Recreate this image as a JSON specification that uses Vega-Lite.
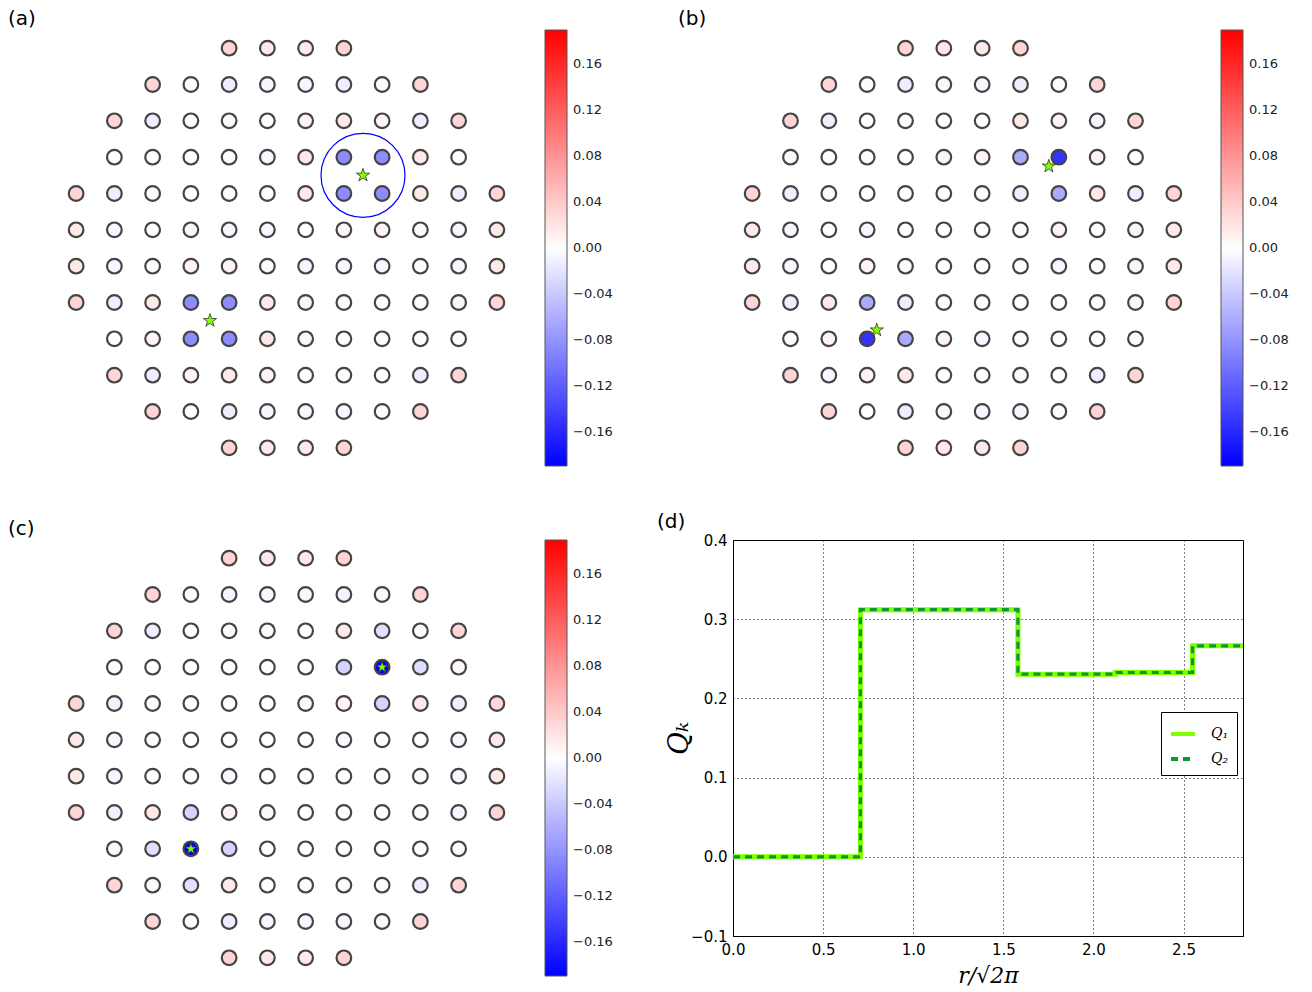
{
"$schema": "https://vega.github.io/schema/vega-lite/v6.json",
"padding": {"left": 8, "top": 9, "right": 0, "bottom": 0},
"background": "white",
"config": {
  "view": {"stroke": null},
  "title": {"font": "DejaVu Sans", "fontSize": 20, "fontWeight": "normal", "anchor": "start", "frame": "group", "offset": 1, "color": "black"},
  "legend": {"labelFont": "DejaVu Sans", "labelColor": "#222"}
},
"datasets": {
  "la": [
    {"r":0,"c":4,"v":0.032},{"r":0,"c":5,"v":0.017},{"r":0,"c":6,"v":0.017},{"r":0,"c":7,"v":0.032},
    {"r":1,"c":2,"v":0.032},{"r":1,"c":3,"v":0.003},{"r":1,"c":4,"v":-0.013},{"r":1,"c":5,"v":-0.006},{"r":1,"c":6,"v":-0.006},{"r":1,"c":7,"v":-0.013},{"r":1,"c":8,"v":0.003},{"r":1,"c":9,"v":0.032},
    {"r":2,"c":1,"v":0.032},{"r":2,"c":2,"v":-0.013},{"r":2,"c":3,"v":0},{"r":2,"c":4,"v":0.003},{"r":2,"c":5,"v":0},{"r":2,"c":6,"v":0.008},{"r":2,"c":7,"v":0.017},{"r":2,"c":8,"v":0.008},{"r":2,"c":9,"v":-0.013},{"r":2,"c":10,"v":0.032},
    {"r":3,"c":1,"v":0},{"r":3,"c":2,"v":0},{"r":3,"c":3,"v":0},{"r":3,"c":4,"v":0},{"r":3,"c":5,"v":-0.006},{"r":3,"c":6,"v":0.017},{"r":3,"c":7,"v":-0.086},{"r":3,"c":8,"v":-0.086},{"r":3,"c":9,"v":0.017},{"r":3,"c":10,"v":0},
    {"r":4,"c":0,"v":0.032},{"r":4,"c":1,"v":-0.013},{"r":4,"c":2,"v":0.003},{"r":4,"c":3,"v":0},{"r":4,"c":4,"v":0.003},{"r":4,"c":5,"v":0},{"r":4,"c":6,"v":0.017},{"r":4,"c":7,"v":-0.086},{"r":4,"c":8,"v":-0.086},{"r":4,"c":9,"v":0.017},{"r":4,"c":10,"v":-0.013},{"r":4,"c":11,"v":0.032},
    {"r":5,"c":0,"v":0.017},{"r":5,"c":1,"v":-0.006},{"r":5,"c":2,"v":0},{"r":5,"c":3,"v":-0.006},{"r":5,"c":4,"v":-0.006},{"r":5,"c":5,"v":-0.006},{"r":5,"c":6,"v":0},{"r":5,"c":7,"v":0.008},{"r":5,"c":8,"v":0.008},{"r":5,"c":9,"v":0.003},{"r":5,"c":10,"v":-0.006},{"r":5,"c":11,"v":0.017},
    {"r":6,"c":0,"v":0.017},{"r":6,"c":1,"v":-0.006},{"r":6,"c":2,"v":0.003},{"r":6,"c":3,"v":0.008},{"r":6,"c":4,"v":0.008},{"r":6,"c":5,"v":0.003},{"r":6,"c":6,"v":-0.006},{"r":6,"c":7,"v":-0.006},{"r":6,"c":8,"v":-0.006},{"r":6,"c":9,"v":0},{"r":6,"c":10,"v":-0.006},{"r":6,"c":11,"v":0.017},
    {"r":7,"c":0,"v":0.032},{"r":7,"c":1,"v":-0.013},{"r":7,"c":2,"v":0.017},{"r":7,"c":3,"v":-0.086},{"r":7,"c":4,"v":-0.086},{"r":7,"c":5,"v":0.017},{"r":7,"c":6,"v":-0.006},{"r":7,"c":7,"v":0.003},{"r":7,"c":8,"v":0},{"r":7,"c":9,"v":0.003},{"r":7,"c":10,"v":-0.006},{"r":7,"c":11,"v":0.032},
    {"r":8,"c":1,"v":0},{"r":8,"c":2,"v":0.008},{"r":8,"c":3,"v":-0.086},{"r":8,"c":4,"v":-0.086},{"r":8,"c":5,"v":0.017},{"r":8,"c":6,"v":-0.006},{"r":8,"c":7,"v":0},{"r":8,"c":8,"v":0},{"r":8,"c":9,"v":0},{"r":8,"c":10,"v":0.003},
    {"r":9,"c":1,"v":0.032},{"r":9,"c":2,"v":-0.013},{"r":9,"c":3,"v":0.008},{"r":9,"c":4,"v":0.017},{"r":9,"c":5,"v":0.008},{"r":9,"c":6,"v":0},{"r":9,"c":7,"v":0.003},{"r":9,"c":8,"v":0},{"r":9,"c":9,"v":-0.013},{"r":9,"c":10,"v":0.032},
    {"r":10,"c":2,"v":0.032},{"r":10,"c":3,"v":0},{"r":10,"c":4,"v":-0.013},{"r":10,"c":5,"v":-0.006},{"r":10,"c":6,"v":-0.006},{"r":10,"c":7,"v":-0.006},{"r":10,"c":8,"v":0.003},{"r":10,"c":9,"v":0.032},
    {"r":11,"c":4,"v":0.032},{"r":11,"c":5,"v":0.017},{"r":11,"c":6,"v":0.017},{"r":11,"c":7,"v":0.032}
  ],
  "lb": [
    {"r":0,"c":4,"v":0.032},{"r":0,"c":5,"v":0.017},{"r":0,"c":6,"v":0.017},{"r":0,"c":7,"v":0.032},
    {"r":1,"c":2,"v":0.032},{"r":1,"c":3,"v":0.003},{"r":1,"c":4,"v":-0.013},{"r":1,"c":5,"v":-0.006},{"r":1,"c":6,"v":-0.006},{"r":1,"c":7,"v":-0.013},{"r":1,"c":8,"v":0},{"r":1,"c":9,"v":0.032},
    {"r":2,"c":1,"v":0.032},{"r":2,"c":2,"v":-0.013},{"r":2,"c":3,"v":0},{"r":2,"c":4,"v":0.003},{"r":2,"c":5,"v":0},{"r":2,"c":6,"v":0},{"r":2,"c":7,"v":0.017},{"r":2,"c":8,"v":0.008},{"r":2,"c":9,"v":-0.006},{"r":2,"c":10,"v":0.032},
    {"r":3,"c":1,"v":0.003},{"r":3,"c":2,"v":0},{"r":3,"c":3,"v":0},{"r":3,"c":4,"v":0},{"r":3,"c":5,"v":-0.006},{"r":3,"c":6,"v":0.008},{"r":3,"c":7,"v":-0.063},{"r":3,"c":8,"v":-0.152},{"r":3,"c":9,"v":0.008},{"r":3,"c":10,"v":0},
    {"r":4,"c":0,"v":0.032},{"r":4,"c":1,"v":-0.013},{"r":4,"c":2,"v":0.003},{"r":4,"c":3,"v":0},{"r":4,"c":4,"v":0},{"r":4,"c":5,"v":0},{"r":4,"c":6,"v":0.003},{"r":4,"c":7,"v":-0.013},{"r":4,"c":8,"v":-0.063},{"r":4,"c":9,"v":0.017},{"r":4,"c":10,"v":-0.013},{"r":4,"c":11,"v":0.032},
    {"r":5,"c":0,"v":0.017},{"r":5,"c":1,"v":-0.006},{"r":5,"c":2,"v":0},{"r":5,"c":3,"v":-0.006},{"r":5,"c":4,"v":0},{"r":5,"c":5,"v":0},{"r":5,"c":6,"v":0},{"r":5,"c":7,"v":0.003},{"r":5,"c":8,"v":0.008},{"r":5,"c":9,"v":0},{"r":5,"c":10,"v":-0.006},{"r":5,"c":11,"v":0.017},
    {"r":6,"c":0,"v":0.017},{"r":6,"c":1,"v":-0.006},{"r":6,"c":2,"v":0},{"r":6,"c":3,"v":0.008},{"r":6,"c":4,"v":0.003},{"r":6,"c":5,"v":0},{"r":6,"c":6,"v":0},{"r":6,"c":7,"v":0},{"r":6,"c":8,"v":-0.006},{"r":6,"c":9,"v":0},{"r":6,"c":10,"v":-0.006},{"r":6,"c":11,"v":0.017},
    {"r":7,"c":0,"v":0.032},{"r":7,"c":1,"v":-0.013},{"r":7,"c":2,"v":0.017},{"r":7,"c":3,"v":-0.063},{"r":7,"c":4,"v":-0.013},{"r":7,"c":5,"v":0.003},{"r":7,"c":6,"v":0},{"r":7,"c":7,"v":0},{"r":7,"c":8,"v":0},{"r":7,"c":9,"v":0.003},{"r":7,"c":10,"v":-0.006},{"r":7,"c":11,"v":0.032},
    {"r":8,"c":1,"v":0},{"r":8,"c":2,"v":0.008},{"r":8,"c":3,"v":-0.152},{"r":8,"c":4,"v":-0.063},{"r":8,"c":5,"v":0.008},{"r":8,"c":6,"v":-0.006},{"r":8,"c":7,"v":0},{"r":8,"c":8,"v":0},{"r":8,"c":9,"v":0},{"r":8,"c":10,"v":0.003},
    {"r":9,"c":1,"v":0.032},{"r":9,"c":2,"v":-0.006},{"r":9,"c":3,"v":0.008},{"r":9,"c":4,"v":0.017},{"r":9,"c":5,"v":0},{"r":9,"c":6,"v":0},{"r":9,"c":7,"v":0.003},{"r":9,"c":8,"v":0},{"r":9,"c":9,"v":-0.013},{"r":9,"c":10,"v":0.032},
    {"r":10,"c":2,"v":0.032},{"r":10,"c":3,"v":0},{"r":10,"c":4,"v":-0.013},{"r":10,"c":5,"v":-0.006},{"r":10,"c":6,"v":-0.006},{"r":10,"c":7,"v":-0.006},{"r":10,"c":8,"v":0.003},{"r":10,"c":9,"v":0.032},
    {"r":11,"c":4,"v":0.032},{"r":11,"c":5,"v":0.017},{"r":11,"c":6,"v":0.017},{"r":11,"c":7,"v":0.032}
  ],
  "lc": [
    {"r":0,"c":4,"v":0.032},{"r":0,"c":5,"v":0.017},{"r":0,"c":6,"v":0.017},{"r":0,"c":7,"v":0.032},
    {"r":1,"c":2,"v":0.032},{"r":1,"c":3,"v":0.003},{"r":1,"c":4,"v":-0.008},{"r":1,"c":5,"v":-0.006},{"r":1,"c":6,"v":-0.006},{"r":1,"c":7,"v":-0.008},{"r":1,"c":8,"v":0.005},{"r":1,"c":9,"v":0.032},
    {"r":2,"c":1,"v":0.032},{"r":2,"c":2,"v":-0.013},{"r":2,"c":3,"v":0},{"r":2,"c":4,"v":0.003},{"r":2,"c":5,"v":0.003},{"r":2,"c":6,"v":0},{"r":2,"c":7,"v":0.017},{"r":2,"c":8,"v":-0.022},{"r":2,"c":9,"v":0.003},{"r":2,"c":10,"v":0.032},
    {"r":3,"c":1,"v":0.003},{"r":3,"c":2,"v":0},{"r":3,"c":3,"v":0},{"r":3,"c":4,"v":0},{"r":3,"c":5,"v":0},{"r":3,"c":6,"v":0},{"r":3,"c":7,"v":-0.032},{"r":3,"c":8,"v":-0.19},{"r":3,"c":9,"v":-0.024},{"r":3,"c":10,"v":0.005},
    {"r":4,"c":0,"v":0.032},{"r":4,"c":1,"v":-0.01},{"r":4,"c":2,"v":0.003},{"r":4,"c":3,"v":0},{"r":4,"c":4,"v":0},{"r":4,"c":5,"v":0},{"r":4,"c":6,"v":-0.005},{"r":4,"c":7,"v":0.01},{"r":4,"c":8,"v":-0.032},{"r":4,"c":9,"v":0.017},{"r":4,"c":10,"v":-0.013},{"r":4,"c":11,"v":0.032},
    {"r":5,"c":0,"v":0.017},{"r":5,"c":1,"v":-0.006},{"r":5,"c":2,"v":0.003},{"r":5,"c":3,"v":0},{"r":5,"c":4,"v":0},{"r":5,"c":5,"v":0},{"r":5,"c":6,"v":0},{"r":5,"c":7,"v":-0.005},{"r":5,"c":8,"v":0},{"r":5,"c":9,"v":0},{"r":5,"c":10,"v":-0.006},{"r":5,"c":11,"v":0.017},
    {"r":6,"c":0,"v":0.017},{"r":6,"c":1,"v":-0.006},{"r":6,"c":2,"v":0},{"r":6,"c":3,"v":0},{"r":6,"c":4,"v":-0.005},{"r":6,"c":5,"v":0},{"r":6,"c":6,"v":0},{"r":6,"c":7,"v":0},{"r":6,"c":8,"v":0},{"r":6,"c":9,"v":0.003},{"r":6,"c":10,"v":-0.006},{"r":6,"c":11,"v":0.017},
    {"r":7,"c":0,"v":0.032},{"r":7,"c":1,"v":-0.01},{"r":7,"c":2,"v":0.017},{"r":7,"c":3,"v":-0.032},{"r":7,"c":4,"v":0.01},{"r":7,"c":5,"v":-0.005},{"r":7,"c":6,"v":0},{"r":7,"c":7,"v":0},{"r":7,"c":8,"v":0},{"r":7,"c":9,"v":0.003},{"r":7,"c":10,"v":-0.006},{"r":7,"c":11,"v":0.032},
    {"r":8,"c":1,"v":0.005},{"r":8,"c":2,"v":-0.024},{"r":8,"c":3,"v":-0.19},{"r":8,"c":4,"v":-0.032},{"r":8,"c":5,"v":0},{"r":8,"c":6,"v":0},{"r":8,"c":7,"v":0},{"r":8,"c":8,"v":0},{"r":8,"c":9,"v":0},{"r":8,"c":10,"v":0.003},
    {"r":9,"c":1,"v":0.032},{"r":9,"c":2,"v":0.003},{"r":9,"c":3,"v":-0.022},{"r":9,"c":4,"v":0.017},{"r":9,"c":5,"v":0},{"r":9,"c":6,"v":0.003},{"r":9,"c":7,"v":0.003},{"r":9,"c":8,"v":0},{"r":9,"c":9,"v":-0.013},{"r":9,"c":10,"v":0.032},
    {"r":10,"c":2,"v":0.032},{"r":10,"c":3,"v":0.003},{"r":10,"c":4,"v":-0.013},{"r":10,"c":5,"v":-0.006},{"r":10,"c":6,"v":-0.006},{"r":10,"c":7,"v":-0.006},{"r":10,"c":8,"v":0.003},{"r":10,"c":9,"v":0.032},
    {"r":11,"c":4,"v":0.032},{"r":11,"c":5,"v":0.017},{"r":11,"c":6,"v":0.017},{"r":11,"c":7,"v":0.032}
  ],
  "sa": [{"c":7.5,"r":3.5},{"c":3.5,"r":7.5}],
  "sb": [{"c":7.74,"r":3.25},{"c":3.25,"r":7.76}],
  "sc": [{"c":8,"r":3},{"c":3,"r":8}],
  "ring": [{"c":7.5,"r":3.5}],
  "q1": [
    {"x":0,"y":0,"s":"Q₁"},{"x":0.707,"y":0.312,"s":"Q₁"},{"x":1.581,"y":0.2306,"s":"Q₁"},{"x":2.121,"y":0.2327,"s":"Q₁"},{"x":2.55,"y":0.2664,"s":"Q₁"},{"x":2.83,"y":0.2664,"s":"Q₁"}
  ],
  "q2": [
    {"x":0,"y":0,"s":"Q₂"},{"x":0.707,"y":0.312,"s":"Q₂"},{"x":1.581,"y":0.2306,"s":"Q₂"},{"x":2.121,"y":0.2327,"s":"Q₂"},{"x":2.55,"y":0.2664,"s":"Q₂"},{"x":2.83,"y":0.2664,"s":"Q₂"}
  ]
},
"bounds": "flush",
"align": "each",
"columns": 2,
"spacing": {"row": 74, "column": 217},
"resolve": {"scale": {"x": "independent", "y": "independent", "color": "independent", "strokeDash": "independent"}, "legend": {"color": "independent", "strokeDash": "independent"}},
"concat": [
  {
    "width": 459, "height": 436,
    "title": {"text": "(a)", "dx": -49},
    "layer": [
      {"data": {"name": "la"},
       "mark": {"type": "point", "shape": "circle", "filled": true, "size": 215, "stroke": "#444", "strokeWidth": 2.2, "opacity": 1},
       "encoding": {
         "x": {"field": "c", "type": "quantitative", "scale": {"domain": [-0.5, 11.5], "nice": false, "zero": false}, "axis": null},
         "y": {"field": "r", "type": "quantitative", "scale": {"domain": [-0.5, 11.5], "nice": false, "zero": false, "reverse": true}, "axis": null},
         "color": {"field": "v", "type": "quantitative",
           "scale": {"domain": [-0.19, 0, 0.19], "range": ["#0000ff", "#ffffff", "#ff0000"], "interpolate": "rgb"},
           "legend": {"orient": "none", "legendX": 488, "legendY": 0, "title": null, "direction": "vertical", "gradientLength": 436, "gradientThickness": 22, "gradientStrokeColor": "#555", "gradientStrokeWidth": 1, "values": [-0.16, -0.12, -0.08, -0.04, 0, 0.04, 0.08, 0.12, 0.16], "format": ".2f", "labelFontSize": 13, "labelOffset": 6, "labelOverlap": false}}
       }},
      {"data": {"name": "ring"},
       "mark": {"type": "point", "shape": "circle", "filled": false, "size": 7056, "stroke": "#0000ff", "strokeWidth": 1.2, "opacity": 1},
       "encoding": {"x": {"field": "c", "type": "quantitative"}, "y": {"field": "r", "type": "quantitative"}}},
      {"data": {"name": "sa"},
       "mark": {"type": "point", "shape": "M0,-1L0.2245,-0.309L0.951,-0.309L0.363,0.118L0.588,0.809L0,0.382L-0.588,0.809L-0.363,0.118L-0.951,-0.309L-0.2245,-0.309Z", "filled": true, "fill": "#7fff00", "size": 196, "stroke": "#333", "strokeWidth": 0.8, "opacity": 1},
       "encoding": {"x": {"field": "c", "type": "quantitative"}, "y": {"field": "r", "type": "quantitative"}}}
    ]
  },
  {
    "width": 460, "height": 436,
    "title": {"text": "(b)", "dx": -55},
    "layer": [
      {"data": {"name": "lb"},
       "mark": {"type": "point", "shape": "circle", "filled": true, "size": 215, "stroke": "#444", "strokeWidth": 2.2, "opacity": 1},
       "encoding": {
         "x": {"field": "c", "type": "quantitative", "scale": {"domain": [-0.5, 11.5], "nice": false, "zero": false}, "axis": null},
         "y": {"field": "r", "type": "quantitative", "scale": {"domain": [-0.5, 11.5], "nice": false, "zero": false, "reverse": true}, "axis": null},
         "color": {"field": "v", "type": "quantitative",
           "scale": {"domain": [-0.19, 0, 0.19], "range": ["#0000ff", "#ffffff", "#ff0000"], "interpolate": "rgb"},
           "legend": {"orient": "none", "legendX": 488, "legendY": 0, "title": null, "direction": "vertical", "gradientLength": 436, "gradientThickness": 22, "gradientStrokeColor": "#555", "gradientStrokeWidth": 1, "values": [-0.16, -0.12, -0.08, -0.04, 0, 0.04, 0.08, 0.12, 0.16], "format": ".2f", "labelFontSize": 13, "labelOffset": 6, "labelOverlap": false}}
       }},
      {"data": {"name": "sb"},
       "mark": {"type": "point", "shape": "M0,-1L0.2245,-0.309L0.951,-0.309L0.363,0.118L0.588,0.809L0,0.382L-0.588,0.809L-0.363,0.118L-0.951,-0.309L-0.2245,-0.309Z", "filled": true, "fill": "#7fff00", "size": 196, "stroke": "#333", "strokeWidth": 0.8, "opacity": 1},
       "encoding": {"x": {"field": "c", "type": "quantitative"}, "y": {"field": "r", "type": "quantitative"}}}
    ]
  },
  {
    "width": 459, "height": 436,
    "title": {"text": "(c)", "dx": -49},
    "layer": [
      {"data": {"name": "lc"},
       "mark": {"type": "point", "shape": "circle", "filled": true, "size": 215, "stroke": "#444", "strokeWidth": 2.2, "opacity": 1},
       "encoding": {
         "x": {"field": "c", "type": "quantitative", "scale": {"domain": [-0.5, 11.5], "nice": false, "zero": false}, "axis": null},
         "y": {"field": "r", "type": "quantitative", "scale": {"domain": [-0.5, 11.5], "nice": false, "zero": false, "reverse": true}, "axis": null},
         "color": {"field": "v", "type": "quantitative",
           "scale": {"domain": [-0.19, 0, 0.19], "range": ["#0000ff", "#ffffff", "#ff0000"], "interpolate": "rgb"},
           "legend": {"orient": "none", "legendX": 488, "legendY": 0, "title": null, "direction": "vertical", "gradientLength": 436, "gradientThickness": 22, "gradientStrokeColor": "#555", "gradientStrokeWidth": 1, "values": [-0.16, -0.12, -0.08, -0.04, 0, 0.04, 0.08, 0.12, 0.16], "format": ".2f", "labelFontSize": 13, "labelOffset": 6, "labelOverlap": false}}
       }},
      {"data": {"name": "sc"},
       "mark": {"type": "point", "shape": "M0,-1L0.2245,-0.309L0.951,-0.309L0.363,0.118L0.588,0.809L0,0.382L-0.588,0.809L-0.363,0.118L-0.951,-0.309L-0.2245,-0.309Z", "filled": true, "fill": "#7fff00", "size": 144, "stroke": "#333", "strokeWidth": 0.8, "opacity": 1},
       "encoding": {"x": {"field": "c", "type": "quantitative"}, "y": {"field": "r", "type": "quantitative"}}}
    ]
  },
  {
    "width": 510, "height": 396,
    "title": {"text": "(d)", "dx": -76},
    "view": {"stroke": "black", "strokeWidth": 1},
    "layer": [
      {"data": {"name": "q1"},
       "mark": {"type": "line", "interpolate": "step-after", "strokeWidth": 5},
       "encoding": {
         "x": {"field": "x", "type": "quantitative", "scale": {"domain": [0, 2.83], "nice": false, "zero": false},
               "axis": {"values": [0, 0.5, 1, 1.5, 2, 2.5], "format": ".1f", "title": "r/√2π", "titleFontSize": 22, "titlePadding": 8, "titleFont": "DejaVu Serif", "titleFontStyle": "italic", "titleFontWeight": "normal", "titleColor": "black", "labelFont": "DejaVu Sans", "labelFontSize": 15, "labelColor": "black", "labelFlush": false, "domainColor": "black", "gridColor": "black", "gridDash": [1, 3], "gridOpacity": 1, "ticks": false, "labelPadding": 6}},
         "y": {"field": "y", "type": "quantitative", "scale": {"domain": [-0.1, 0.4], "nice": false, "zero": false},
               "axis": {"values": [-0.1, 0, 0.1, 0.2, 0.3, 0.4], "format": ".1f", "title": "Qₖ", "titleFontSize": 28, "titlePadding": -3, "titleFont": "DejaVu Serif", "titleFontStyle": "italic", "titleFontWeight": "normal", "titleColor": "black", "labelFont": "DejaVu Sans", "labelFontSize": 15, "labelColor": "black", "labelFlush": false, "domainColor": "black", "gridColor": "black", "gridDash": [1, 3], "gridOpacity": 1, "ticks": false, "labelPadding": 6}},
         "color": {"field": "s", "type": "nominal", "scale": {"domain": ["Q₁", "Q₂"], "range": ["#7fff00", "#0c9a30"]},
                   "legend": {"orient": "none", "legendX": 428, "legendY": 172, "title": null, "strokeColor": "black", "fillColor": "white", "padding": 8, "symbolType": "stroke", "symbolStrokeWidth": 4, "symbolSize": 576, "labelFont": "DejaVu Serif", "labelFontStyle": "italic", "labelFontSize": 14, "labelColor": "black", "labelOffset": 14, "rowPadding": 3}},
         "strokeDash": {"field": "s", "type": "nominal", "scale": {"domain": ["Q₁", "Q₂"], "range": [[1, 0], [7, 5]]},
                   "legend": {"orient": "none", "legendX": 428, "legendY": 172, "title": null, "strokeColor": "black", "fillColor": "white", "padding": 8, "symbolType": "stroke", "symbolStrokeWidth": 4, "symbolSize": 576, "labelFont": "DejaVu Serif", "labelFontStyle": "italic", "labelFontSize": 14, "labelColor": "black", "labelOffset": 14, "rowPadding": 3}}
       }},
      {"data": {"name": "q2"},
       "mark": {"type": "line", "interpolate": "step-after", "strokeWidth": 3.2},
       "encoding": {
         "x": {"field": "x", "type": "quantitative"},
         "y": {"field": "y", "type": "quantitative"},
         "color": {"field": "s", "type": "nominal"},
         "strokeDash": {"field": "s", "type": "nominal"}
       }}
    ]
  }
]
}
